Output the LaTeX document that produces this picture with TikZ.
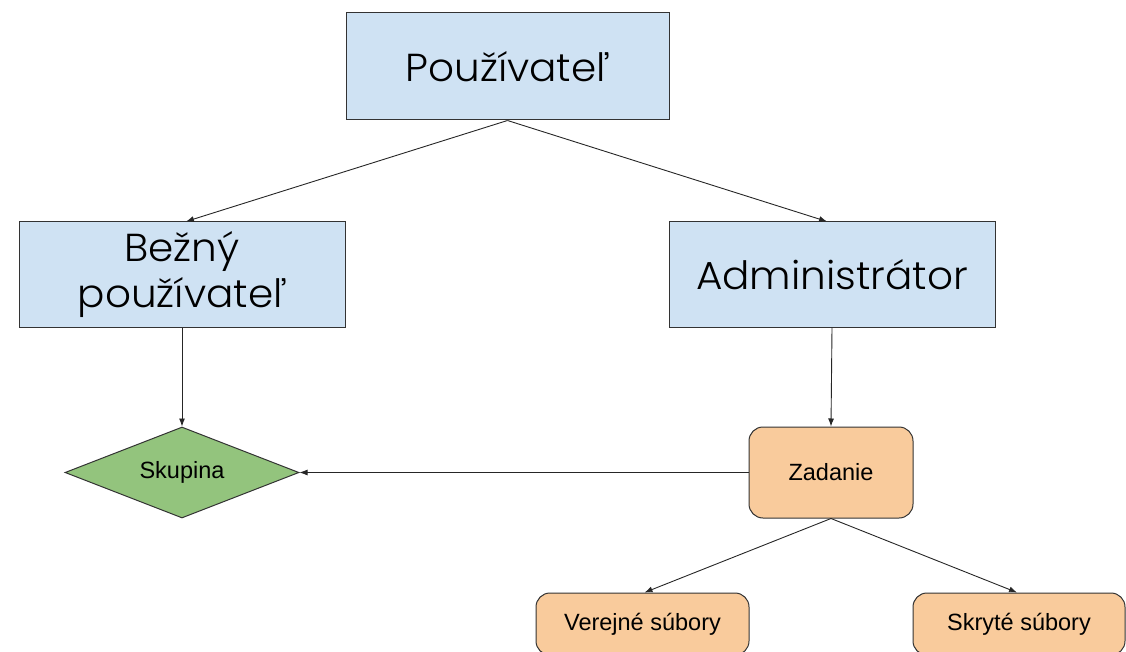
\documentclass[tikz,border=0pt]{standalone}
\usepackage{fontspec}
\setmainfont{Liberation Sans}
\newfontfamily\bigfont{Poppins Light}[FakeStretch=1.04]
\usetikzlibrary{shapes.geometric,arrows.meta}
\definecolor{bluefill}{HTML}{CFE2F3}
\definecolor{greenfill}{HTML}{93C47D}
\definecolor{orangefill}{HTML}{F9CB9C}
\definecolor{edge}{HTML}{333333}
\tikzset{
  x=1pt,y=1pt,
  bluebox/.style={draw=edge,line width=1pt,fill=bluefill,rectangle,inner sep=0pt,align=center,
    font=\bigfont\fontsize{39}{46}\selectfont},
  orangebox/.style={draw=edge,line width=1pt,fill=orangefill,rounded corners=14pt,inner sep=0pt,
    font=\fontsize{23.5}{28}\selectfont},
  decision/.style={draw=edge,line width=1pt,fill=greenfill,diamond,aspect=2.57,inner sep=0pt,
    font=\fontsize{23.5}{28}\selectfont},
  conn/.style={draw=black!85,line width=0.9pt,-{Latex[length=8pt,width=6pt]}},
}
\begin{document}
\begin{tikzpicture}
\useasboundingbox (0,0) rectangle (1126,-652);
\clip (0,0) rectangle (1126,-652);
\node[bluebox,minimum width=323,minimum height=107] (user) at (507.5,-66.5) {Používateľ};
\node[bluebox,minimum width=326,minimum height=105] (bezny) at (182,-274.5) {Bežný\\používateľ};
\node[bluebox,minimum width=326,minimum height=105] (admin) at (832,-274.5) {Administrátor};
\node[decision,minimum width=234,minimum height=91] (skupina) at (182,-472.5) {Skupina};
\node[orangebox,minimum width=164,minimum height=91] (zadanie) at (831,-472.5) {Zadanie};
\node[orangebox,minimum width=213,minimum height=62] (verejne) at (642.5,-624) {Verejné súbory};
\node[orangebox,minimum width=212,minimum height=62] (skryte) at (1019,-624) {Skryté súbory};
\draw[conn] (user.south) -- ([xshift=4pt]bezny.north);
\draw[conn] (user.south) -- ([xshift=-5pt]admin.north);
\draw[conn] (bezny.south) -- (skupina.north);
\draw[conn] (admin.south) -- (zadanie.north);
\draw[conn] (zadanie.west) -- (skupina.east);
\draw[conn] (zadanie.south) -- ([xshift=2pt]verejne.north);
\draw[conn] (zadanie.south) -- ([xshift=-2pt]skryte.north);
\end{tikzpicture}
\end{document}
